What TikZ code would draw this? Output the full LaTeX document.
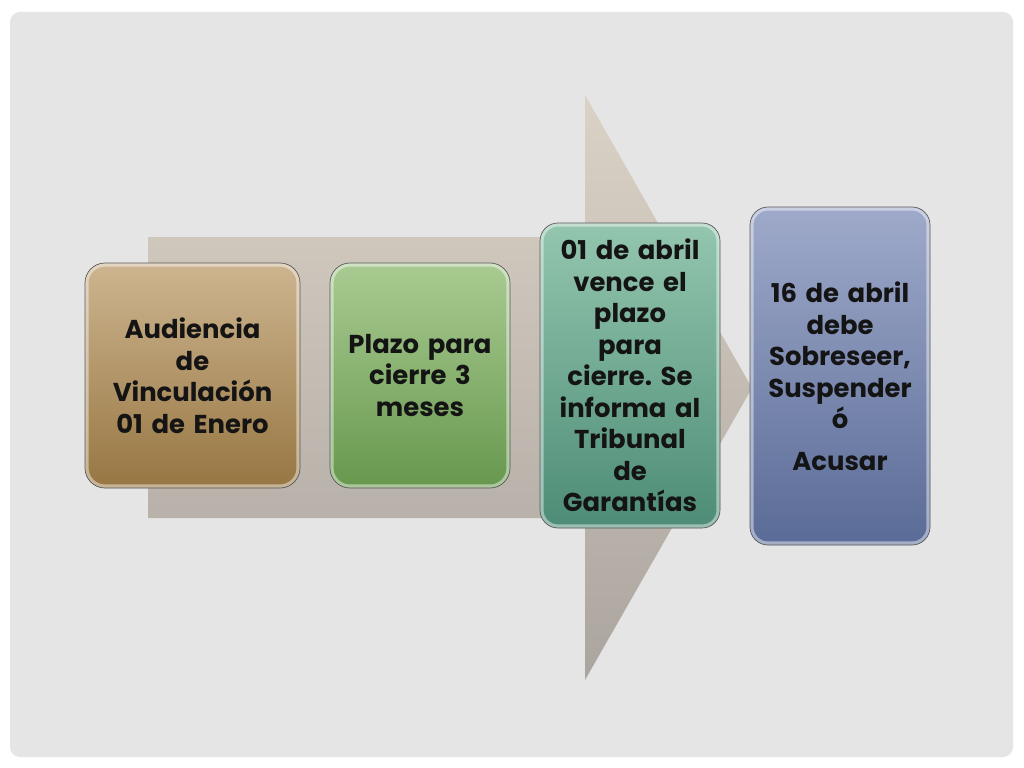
\documentclass[tikz,border=0pt]{standalone}
\usepackage{fontspec}
\setmainfont{Poppins}
\frenchspacing
\definecolor{slidegray}{HTML}{E5E5E5}
\definecolor{arrowtop}{HTML}{DBD2C6}
\definecolor{arrowbot}{HTML}{ABA59F}
\definecolor{browntop}{HTML}{CDB590}
\definecolor{brownbot}{HTML}{977642}
\definecolor{greentop}{HTML}{A9CB92}
\definecolor{greenbot}{HTML}{67984E}
\definecolor{tealtop}{HTML}{94C6AE}
\definecolor{tealbot}{HTML}{4D8C76}
\definecolor{bluetop}{HTML}{9FAACA}
\definecolor{bluebot}{HTML}{5A6B97}
\definecolor{textdark}{HTML}{141414}
\tikzset{
  stepcard/.style={draw=black!65, line width=0.5pt, rounded corners=#1,
    inner sep=0pt, align=center, text=textdark,
    font=\bfseries\fontsize{18.4}{22.4}\selectfont,
    path picture={\draw[white, opacity=0.45, line width=5pt, rounded corners=#1]
      (path picture bounding box.south west) rectangle (path picture bounding box.north east);}},
  stepcard/.default=0.5cm,
}
\begin{document}
\begin{tikzpicture}[x=0.025cm,y=-0.025cm]
%slide
 \useasboundingbox (0,0) rectangle (1024,768);
 \fill[white] (0,0) rectangle (1024,768); %page
 \fill[slidegray, rounded corners=0.25cm] (10,12) rectangle (1013,757); %panel
%big arrow
 \shade[top color=arrowtop, bottom color=arrowbot]
  (148,237) -- (585,237) -- (585,95) -- (752,388) -- (585,680) -- (585,518) -- (148,518) -- cycle; %body and head
%cards
 \node[stepcard, top color=browntop, bottom color=brownbot,
  minimum width=215*0.025cm, minimum height=225*0.025cm, text width=190*0.025cm]
  (vinculacion) at (192.5,375.5) {Audiencia\\de\\Vinculación\\01 de Enero}; %card 1
 \node[stepcard, top color=greentop, bottom color=greenbot,
  minimum width=180*0.025cm, minimum height=225*0.025cm, text width=165*0.025cm]
  (plazo) at (420,375.5) {Plazo para\\cierre 3\\meses}; %card 2
 \node[stepcard=0.45cm, top color=tealtop, bottom color=tealbot,
  minimum width=180*0.025cm, minimum height=305*0.025cm, text width=165*0.025cm]
  (vence) at (630,375.5) {01 de abril\\vence el\\plazo\\para\\cierre. Se\\informa al\\Tribunal\\de\\Garantías}; %card 3
 \node[stepcard=0.45cm, top color=bluetop, bottom color=bluebot,
  minimum width=180*0.025cm, minimum height=338*0.025cm, text width=165*0.025cm]
  (acusar) at (840,376) {16 de abril\\debe\\Sobreseer,\\Suspender\\ó\\[0.25cm]Acusar}; %card 4
\end{tikzpicture}
\end{document}
